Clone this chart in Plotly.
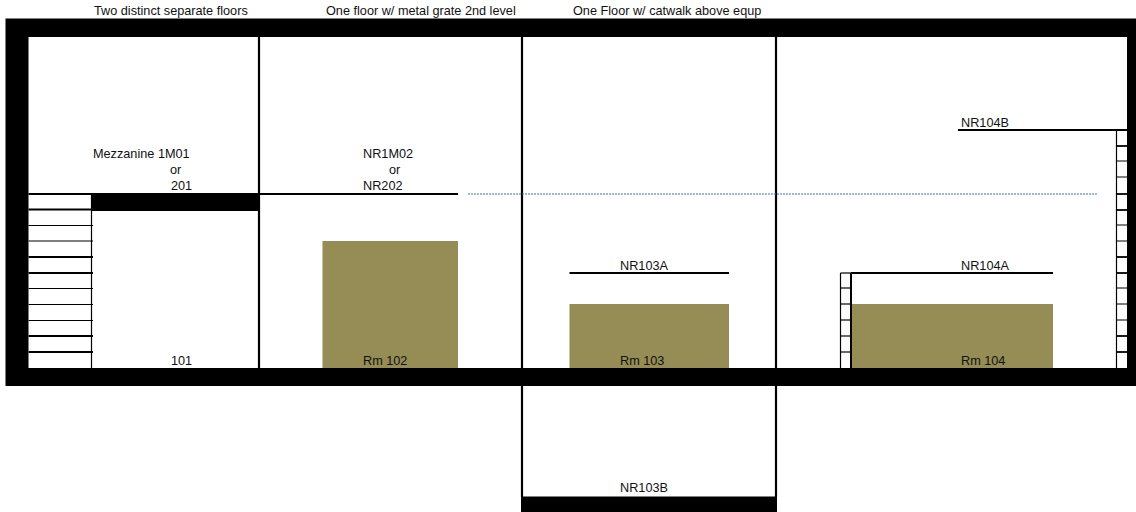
import plotly.graph_objects as go

BLACK = "#000000"
OLIVE = "#968c55"
DOTTED = "#3f6fb0"

# Filled blocks: (x0, x1, y0, y1)
wall_blocks = [
    (5.5, 1136, 18.5, 37),      # roof
    (5.5, 28.5, 18.5, 386),     # left wall
    (1127, 1136, 18.5, 386),    # right wall
    (5.5, 1136, 368, 386),      # floor
    (91.5, 259, 194, 211),      # mezzanine slab
    (521, 777, 496.5, 512),     # basement slab
]
equipment_blocks = [
    (322.5, 458, 241, 368),
    (569.5, 729, 304, 368),
    (851, 1053, 304, 368),
]

# Line segments: (x0, x1, y0, y1)
dividers = [
    (259, 259, 37, 368),
    (522, 522, 37, 368),
    (776, 776, 37, 368),
    (522, 522, 386, 497),
    (776, 776, 386, 497),
]
floors = [
    (28.5, 458, 194, 194),
    (569.5, 729, 273, 273),
    (851, 1053, 273, 273),
    (958, 1127, 130, 130),
    (851, 851, 273, 368),
]
thin_lines = [
    (91.5, 91.5, 194, 368),
    (840.5, 851, 273, 273),
    (840.5, 840.5, 273, 368),
    (1116.5, 1116.5, 130, 368),
]

stair_a_heavy = [209.5, 257, 273, 336, 352]
stair_a_light = [225.5, 241, 288.5, 304.5, 320.5]
stair_b_rungs = [288, 304, 320, 336, 352]
stair_c_heavy = [146, 194, 210, 257, 273, 336, 352]
stair_c_light = [161, 177, 225, 241, 288, 304, 320]

dotted_x = [468, 1097]
dotted_y = [194, 194]

label_text = [
    "Two distinct separate floors", "One floor w/ metal grate 2nd level",
    "One Floor w/ catwalk above equp", "Mezzanine 1M01", "or", "201", "101",
    "NR1M02", "or", "NR202", "Rm 102", "NR103A", "Rm 103", "NR103B",
    "NR104B", "NR104A", "Rm 104",
]
label_x = [94, 326, 573, 93, 170, 171, 171, 363, 389, 363, 363, 620, 620, 620, 961, 961, 961]
label_y = [11.5, 11.5, 11.5, 154.5, 170.5, 186.5, 361.5, 154.5, 170.5, 186.5, 361.5, 266.5, 361.5, 488.5, 123.5, 266.5, 361.5]


def rect_path(blocks):
    xs, ys = [], []
    for x0, x1, y0, y1 in blocks:
        xs += [x0, x1, x1, x0, x0, None]
        ys += [y0, y0, y1, y1, y0, None]
    return xs, ys


def seg_path(segs):
    xs, ys = [], []
    for x0, x1, y0, y1 in segs:
        xs += [x0, x1, None]
        ys += [y0, y1, None]
    return xs, ys


def rungs(x0, x1, ys_):
    return [(x0, x1, y, y) for y in ys_]


fig = go.Figure()


def add_fill(blocks, color):
    xs, ys = rect_path(blocks)
    fig.add_trace(go.Scatter(x=xs, y=ys, mode="lines", fill="toself", fillcolor=color,
                             line=dict(width=0, color=color), hoverinfo="skip"))


def add_lines(segs, width, color=BLACK, dash="solid"):
    xs, ys = seg_path(segs)
    fig.add_trace(go.Scatter(x=xs, y=ys, mode="lines",
                             line=dict(width=width, color=color, dash=dash), hoverinfo="skip"))


add_fill(equipment_blocks, OLIVE)
add_fill(wall_blocks, BLACK)
add_lines(dividers, 2.2)
add_lines(floors, 2)
add_lines(thin_lines, 1.2)
add_lines(rungs(28.5, 93, stair_a_heavy), 1.8)
add_lines(rungs(28.5, 93, stair_a_light), 1)
add_lines(rungs(840.5, 851, stair_b_rungs), 1.2)
add_lines(rungs(1116.5, 1127, stair_c_heavy), 1.8)
add_lines(rungs(1116.5, 1127, stair_c_light), 1)
fig.add_trace(go.Scatter(x=dotted_x, y=dotted_y, mode="lines", hoverinfo="skip",
                         line=dict(width=1, color=DOTTED, dash="2px,1px")))
fig.add_trace(go.Scatter(x=label_x, y=label_y, text=label_text, mode="text",
                         textposition="middle right", hoverinfo="skip",
                         textfont=dict(family="Liberation Sans", size=12.7, color="#111111")))

fig.update_layout(
    width=1136, height=512, margin=dict(l=0, r=0, t=0, b=0),
    paper_bgcolor="white", plot_bgcolor="white", showlegend=False,
    xaxis=dict(range=[0, 1136], visible=False, fixedrange=True),
    yaxis=dict(range=[512, 0], visible=False, fixedrange=True),
)
fig.write_html("out.html", config={"displayModeBar": False},
               post_script="document.body.style.margin='0';document.body.style.overflow='hidden';")
